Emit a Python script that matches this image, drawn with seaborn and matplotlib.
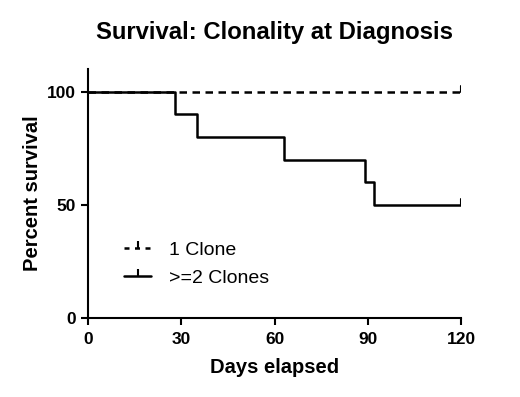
import pandas as pd
import seaborn as sns
import matplotlib.pyplot as plt
from matplotlib.lines import Line2D

# Kaplan-Meier steps
one_clone_days = [0, 120]
one_clone_surv = [100, 100]

two_clone_days = [0, 28, 35, 63, 89, 92, 120]
two_clone_surv = [100, 90, 80, 70, 60, 50, 50]

groups = ['1 Clone', '>=2 Clones']
x_ticks = [0, 30, 60, 90, 120]
y_ticks = [0, 50, 100]

df = pd.concat([
    pd.DataFrame({'days': one_clone_days, 'surv': one_clone_surv, 'group': groups[0]}),
    pd.DataFrame({'days': two_clone_days, 'surv': two_clone_surv, 'group': groups[1]}),
])

sns.set_style('white')
plt.rcParams['font.family'] = ['Liberation Sans', 'DejaVu Sans']
plt.rcParams['text.color'] = 'black'
plt.rcParams['axes.labelcolor'] = 'black'

fig = plt.figure(figsize=(5.2, 3.97), dpi=100)
ax = fig.add_axes([0.169, 0.199, 0.718, 0.627])

sns.lineplot(data=df, x='days', y='surv', style='group', color='black',
             dashes={groups[0]: (3, 2.2), groups[1]: ''}, drawstyle='steps-post',
             linewidth=1.8, ax=ax, legend=False)

# censor ticks at the end of each curve
ax.plot([one_clone_days[-1]] * 2, [one_clone_surv[-1], one_clone_surv[-1] + 2.5], color='black', lw=1.5)
ax.plot([two_clone_days[-1]] * 2, [two_clone_surv[-1], two_clone_surv[-1] + 2.5], color='black', lw=1.5)

ax.set_xlim(0, 120)
ax.set_ylim(0, 110)
ax.set_xticks(x_ticks)
ax.set_yticks(y_ticks)
ax.set_xticklabels(x_ticks, fontweight='bold', fontsize=12.5)
ax.set_yticklabels(y_ticks, fontweight='bold', fontsize=12.5)
ax.tick_params(axis='x', pad=5)
ax.tick_params(direction='out', length=5, width=1.5, bottom=True, left=True, colors='black')
for side in ['top', 'right']:
    ax.spines[side].set_visible(False)
for side in ['left', 'bottom']:
    ax.spines[side].set_linewidth(1.5)
    ax.spines[side].set_color('black')

ax.set_xlabel('Days elapsed', fontweight='bold', fontsize=14.5, labelpad=8)
ax.set_ylabel('Percent survival', fontweight='bold', fontsize=14.5, labelpad=4)
ax.set_title('Survival: Clonality at Diagnosis', fontweight='bold', fontsize=17.2, pad=22)

# legend with censor tick in the handle
handles = [Line2D([], [], color='black', lw=1.8, linestyle=(0, (2, 2.2)), marker=2,
                  markersize=5, markeredgewidth=1.5),
           Line2D([], [], color='black', lw=1.8, marker=2, markersize=5, markeredgewidth=1.5)]
ax.legend(handles, groups, loc='lower left', bbox_to_anchor=(0.05, 0.055), frameon=False,
          fontsize=14, handlelength=1.4, handletextpad=0.9, labelspacing=0.55, numpoints=1)

fig.savefig('out.png', dpi=100)
